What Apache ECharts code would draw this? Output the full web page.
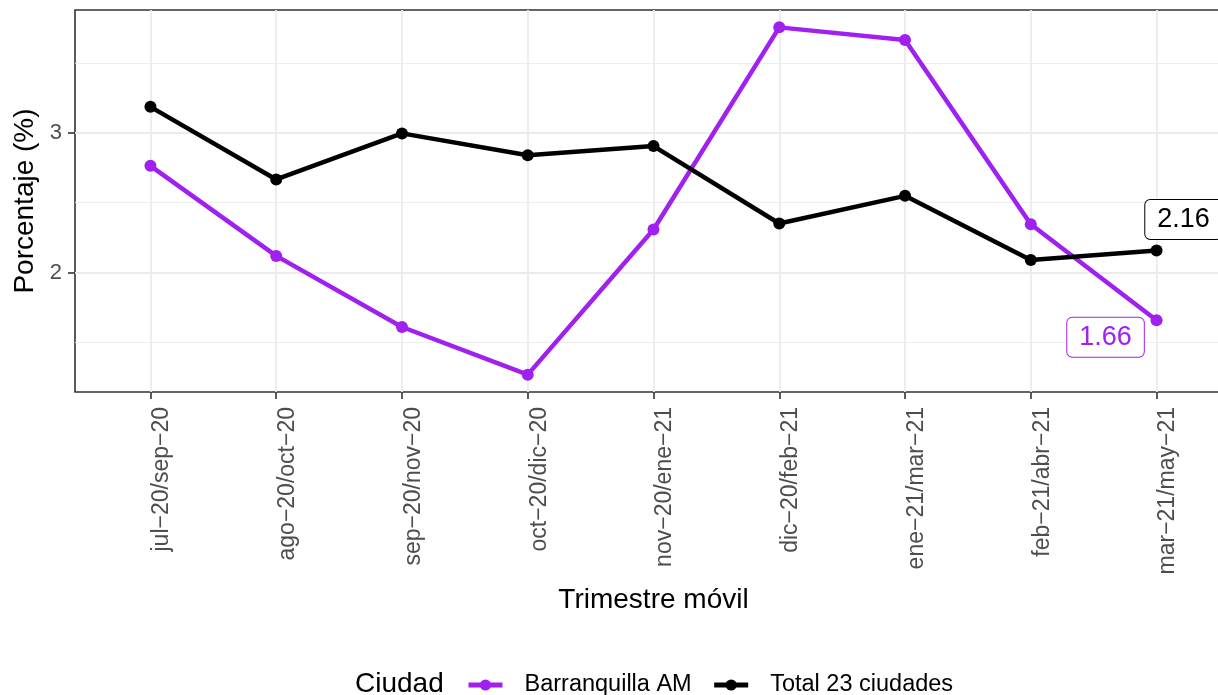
<!DOCTYPE html>
<html>
<head>
<meta charset="utf-8">
<script src="https://cdn.jsdelivr.net/npm/echarts@6/dist/echarts.min.js"></script>
<style>
html,body{margin:0;padding:0;background:#fff;}
#chart{width:1218px;height:695px;}
</style>
</head>
<body>
<div id="chart"></div>
<script>
const categories = ['jul−20/sep−20','ago−20/oct−20','sep−20/nov−20','oct−20/dic−20','nov−20/ene−21','dic−20/feb−21','ene−21/mar−21','feb−21/abr−21','mar−21/may−21'];
const barranquilla = [2.764, 2.119, 1.610, 1.269, 2.308, 3.755, 3.664, 2.346, 1.658];
const total23 = [3.186, 2.666, 2.996, 2.840, 2.905, 2.351, 2.549, 2.090, 2.158];
const yMajorTicks = [2, 3];
const yMinorLines = [1.5, 2.5, 3.5];
const seriesNames = ['Barranquilla AM', 'Total 23 ciudades'];
const legendTitle = 'Ciudad';

const FONT = "'Liberation Sans', Arial, Helvetica, sans-serif";
const allVals = barranquilla.concat(total23);
const dMin = Math.min(...allVals), dMax = Math.max(...allVals);
const pad = (dMax - dMin) * 0.05;
const yMin = dMin - pad, yMax = dMax + pad;
const xIdx = categories.map((c, i) => i);

function mkData(arr, color, offset) {
  return arr.map((v, i) => {
    const item = { value: [i, v] };
    if (i === arr.length - 1) {
      item.label = {
        show: true, position: 'inside', offset: offset,
        formatter: p => p.value[1].toFixed(2),
        color: color, fontSize: 27, fontFamily: FONT,
        backgroundColor: '#fff', borderColor: color, borderWidth: 1,
        borderRadius: 5, padding: [7, 12, 5, 12]
      };
    }
    return item;
  });
}

const chart = echarts.init(document.getElementById('chart'), null, { renderer: 'canvas' });
chart.setOption({
  animation: false,
  backgroundColor: '#fff',
  textStyle: { fontFamily: FONT },
  grid: { left: 75, top: 10, width: 1157, height: 382, outerBoundsMode: 'none', containLabel: false,
    show: true, borderColor: '#333333', borderWidth: 1.6, backgroundColor: 'transparent' },
  xAxis: {
    type: 'value', min: -0.6, max: 8.6,
    name: 'Trimestre móvil', nameLocation: 'middle', nameGap: 194,
    nameTextStyle: { fontSize: 28, color: '#000', fontFamily: FONT },
    axisLine: { show: false, onZero: false },
    axisTick: { show: true, customValues: xIdx, length: 7, lineStyle: { color: '#333333', width: 1.6 } },
    axisLabel: { customValues: xIdx, rotate: 90, margin: 15, fontSize: 23, color: '#4D4D4D', fontFamily: FONT,
      verticalAlign: 'top',
      formatter: v => categories[Math.round(v)] },
    splitLine: { show: true, lineStyle: { color: '#EBEBEB', width: 1.8 } }
  },
  yAxis: [{
    type: 'value', min: yMin, max: yMax,
    name: 'Porcentaje (%)', nameLocation: 'middle', nameGap: 31,
    nameTextStyle: { fontSize: 28, color: '#000', fontFamily: FONT },
    axisLine: { show: false, onZero: false },
    axisTick: { show: true, customValues: yMajorTicks, length: 7, lineStyle: { color: '#333333', width: 1.6 } },
    axisLabel: { customValues: yMajorTicks, margin: 13, fontSize: 22, color: '#4D4D4D', fontFamily: FONT },
    splitLine: { show: true, lineStyle: { color: '#EBEBEB', width: 1.8 } }
  }, {
    type: 'value', min: yMin, max: yMax, position: 'left',
    axisLine: { show: false, onZero: false },
    axisTick: { show: false, customValues: yMinorLines },
    axisLabel: { show: false, customValues: yMinorLines },
    splitLine: { show: true, lineStyle: { color: '#EBEBEB', width: 0.9 } }
  }],
  legend: {
    left: 466, top: 673, padding: 0, itemWidth: 34, itemHeight: 14, itemGap: 20,
    lineStyle: { width: 5 },
    textStyle: { fontSize: 23.5, color: '#000', fontFamily: FONT, padding: [0, 0, 0, 17] },
    data: seriesNames
  },
  graphic: [{
    type: 'text', left: 355, top: 670,
    style: { text: legendTitle, fontSize: 28, fill: '#000', fontFamily: FONT }
  }],
  series: [{
    name: seriesNames[0], type: 'line', data: mkData(barranquilla, '#A020F0', [-51, 17]),
    color: '#A020F0', lineStyle: { width: 4.5, color: '#A020F0' },
    symbol: 'circle', symbolSize: 12, itemStyle: { color: '#A020F0' }, z: 2, clip: false
  }, {
    name: seriesNames[1], type: 'line', data: mkData(total23, '#000000', [27, -31]),
    color: '#000', lineStyle: { width: 4.5, color: '#000' },
    symbol: 'circle', symbolSize: 12, itemStyle: { color: '#000' }, z: 3, clip: false
  }]
});
</script>
</body>
</html>
